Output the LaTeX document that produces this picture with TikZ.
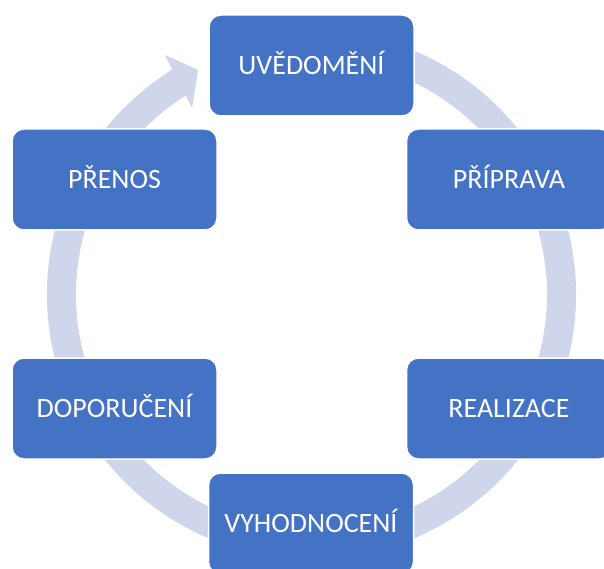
\documentclass[tikz,border=0pt]{standalone}
\usepackage{fontspec}
\setmainfont{Carlito}
\definecolor{boxblue}{HTML}{4472C4}
\definecolor{ringc}{HTML}{CFD5EA}
\begin{document}
\begin{tikzpicture}[x=1pt,y=1pt,
  stagebox/.style={rectangle, rounded corners=12pt, fill=boxblue, draw=white, line width=1.5pt,
    minimum width=205pt, minimum height=101pt, inner sep=0pt, text=white,
    font=\fontsize{28}{33}\selectfont, text height=18pt, text depth=0pt},
  ringline/.style={draw=ringc, line width=29pt}]
\clip (0,0) rectangle (604,568);
\fill[white] (0,0) rectangle (604,568);
\coordinate (C) at (311.5,273.5);
% ring with arrow
\draw[ringline] ([shift={(80:250)}]C) arc[start angle=80,end angle=-238.5,radius=250];
\fill[ringc] ([shift={(121.5:281)}]C) -- ([shift={(116.8:251.6)}]C) -- ([shift={(122.6:221.5)}]C) -- cycle;
% stages
\node[stagebox] (uv) at (311.5,502.5) {UVĚDOMĚNÍ};
\node[stagebox] (pr) at (509,388.5) {PŘÍPRAVA};
\node[stagebox] (re) at (509,159.5) {REALIZACE};
\node[stagebox] (vy) at (311,44.5) {VYHODNOCENÍ};
\node[stagebox] (do) at (114.5,159.5) {DOPORUČENÍ};
\node[stagebox] (pn) at (114.5,388.5) {PŘENOS};
\end{tikzpicture}
\end{document}
